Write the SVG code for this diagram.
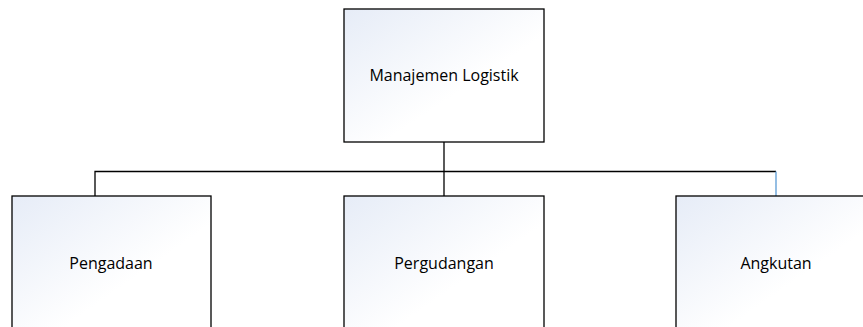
<svg xmlns="http://www.w3.org/2000/svg" width="863" height="327" viewBox="0 0 863 327">
<style>
.box{fill:url(#g);stroke:#000;stroke-width:1.3}
.lbl{font-family:"Open Sans","Liberation Sans",sans-serif;font-size:16px;fill:#000;text-anchor:middle}
.con{fill:none;stroke:#000;stroke-width:1.3}
</style>
<defs>
<linearGradient id="g" x1="0" y1="0" x2="1" y2="1">
<stop offset="0" stop-color="#e6ecf7"/>
<stop offset="0.6" stop-color="#ffffff"/>
<stop offset="1" stop-color="#ffffff"/>
</linearGradient>
</defs>
<rect width="863" height="327" fill="#fff"/>
<g id="connectors">
<path class="con" d="M444 142V196"/>
<path class="con" d="M95 196V171.5H776"/>
<path fill="none" stroke="#5b9bd5" stroke-width="1.3" d="M776 171.5V196"/>
</g>
<g id="manajemen">
<rect class="box" x="344" y="9" width="200" height="133"/>
<text class="lbl" x="444" y="81">Manajemen Logistik</text>
</g>
<g id="pengadaan">
<rect class="box" x="12" y="196" width="199" height="140"/>
<text class="lbl" x="111" y="269">Pengadaan</text>
</g>
<g id="pergudangan">
<rect class="box" x="344" y="196" width="200" height="140"/>
<text class="lbl" x="444" y="269">Pergudangan</text>
</g>
<g id="angkutan">
<rect class="box" x="676" y="196" width="200" height="140"/>
<text class="lbl" x="776" y="269">Angkutan</text>
</g>
</svg>
